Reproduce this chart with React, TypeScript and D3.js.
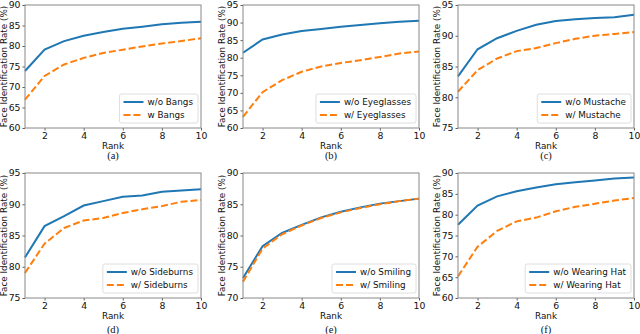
import { useEffect, useRef } from "react";
import * as d3 from "d3";

const ranks = [1, 2, 3, 4, 5, 6, 7, 8, 9, 10];
const rankTicks = [2, 4, 6, 8, 10];

const bangsWithout = [73.9, 79.1, 81.2, 82.5, 83.4, 84.2, 84.7, 85.3, 85.7, 85.9];
const bangsWith = [66.9, 72.7, 75.5, 77.1, 78.3, 79.1, 79.9, 80.6, 81.2, 81.9];

const glassesWithout = [81.4, 85.2, 86.6, 87.6, 88.2, 88.8, 89.3, 89.8, 90.2, 90.5];
const glassesWith = [63.2, 70.2, 73.6, 76.0, 77.5, 78.5, 79.3, 80.2, 81.2, 81.8];

const mustacheWithout = [83.4, 87.8, 89.6, 90.8, 91.8, 92.4, 92.7, 92.9, 93.0, 93.4];
const mustacheWith = [80.9, 84.4, 86.3, 87.5, 88.0, 88.8, 89.5, 90.0, 90.3, 90.6];

const sideburnsWithout = [81.5, 86.5, 88.1, 89.8, 90.5, 91.2, 91.4, 92.0, 92.2, 92.4];
const sideburnsWith = [79.0, 83.7, 86.2, 87.4, 87.8, 88.6, 89.2, 89.7, 90.4, 90.7];

const smilingWithout = [73.2, 78.3, 80.4, 81.7, 82.9, 83.8, 84.5, 85.1, 85.5, 85.9];
const smilingWith = [72.6, 77.9, 80.2, 81.6, 82.8, 83.7, 84.4, 85.0, 85.5, 85.9];

const hatWithout = [77.6, 82.2, 84.4, 85.6, 86.5, 87.3, 87.8, 88.2, 88.7, 88.9];
const hatWith = [65.2, 72.3, 76.1, 78.4, 79.3, 80.8, 81.9, 82.6, 83.4, 84.0];

const panels = [
  { caption: "(a)", yMin: 60, yMax: 90, blue: bangsWithout, orange: bangsWith, labels: ["w/o Bangs", "w Bangs"] },
  { caption: "(b)", yMin: 60, yMax: 95, blue: glassesWithout, orange: glassesWith, labels: ["w/o Eyeglasses", "w/ Eyeglasses"] },
  { caption: "(c)", yMin: 75, yMax: 95, blue: mustacheWithout, orange: mustacheWith, labels: ["w/o Mustache", "w/ Mustache"] },
  { caption: "(d)", yMin: 75, yMax: 95, blue: sideburnsWithout, orange: sideburnsWith, labels: ["w/o Sideburns", "w/ Sideburns"] },
  { caption: "(e)", yMin: 70, yMax: 90, blue: smilingWithout, orange: smilingWith, labels: ["w/o Smiling", "w/ Smiling"] },
  { caption: "(f)", yMin: 60, yMax: 90, blue: hatWithout, orange: hatWith, labels: ["w/o Wearing Hat", "w/ Wearing Hat"] },
];

const W = 640;
const H = 334;
const colLeft = [25, 243, 458];
const rowTop = [5, 173];
const rowH = [123, 125];
const rowCaption = [159, 333];
const plotW = 176;
const BLUE = "#1f77b4";
const ORANGE = "#ff7f0e";
const FONT = "DejaVu Sans, sans-serif";

const App = () => {
  const svgRef = useRef<SVGSVGElement | null>(null);

  useEffect(() => {
    if (!svgRef.current) return;
    const svg = d3.select(svgRef.current);
    svg.selectAll("*").remove();

    panels.forEach((p, i) => {
      const row = Math.floor(i / 3);
      const left = colLeft[i % 3];
      const top = rowTop[row];
      const plotH = rowH[row];
      const x = d3.scaleLinear().domain([1, 10]).range([0, plotW]);
      const y = d3.scaleLinear().domain([p.yMin, p.yMax]).range([plotH, 0]);

      const g = svg.append("g").attr("transform", `translate(${left},${top})`);

      // axes
      const xAxis = g
        .append("g")
        .attr("transform", `translate(0,${plotH})`)
        .call(d3.axisBottom(x).tickValues(rankTicks).tickSize(2.5).tickPadding(2));
      const yAxis = g
        .append("g")
        .call(d3.axisLeft(y).tickValues(d3.range(p.yMin, p.yMax + 0.1, 5)).tickSize(2.5).tickPadding(2));
      [xAxis, yAxis].forEach((a) => {
        a.select(".domain").remove();
        a.selectAll("line").attr("stroke", "#333").attr("stroke-width", 0.8);
        a.selectAll("text").attr("font-family", FONT).attr("font-size", 9.3).attr("fill", "#111");
      });

      const line = d3
        .line<number>()
        .x((_, k) => x(ranks[k]))
        .y((d) => y(d));

      g.append("path")
        .attr("d", line(p.blue))
        .attr("fill", "none")
        .attr("stroke", BLUE)
        .attr("stroke-width", 2);
      g.append("path")
        .attr("d", line(p.orange))
        .attr("fill", "none")
        .attr("stroke", ORANGE)
        .attr("stroke-width", 2)
        .attr("stroke-dasharray", "7,3");

      // frame
      g.append("rect")
        .attr("width", plotW)
        .attr("height", plotH)
        .attr("fill", "none")
        .attr("stroke", "#888")
        .attr("stroke-width", 1);

      // legend
      const leg = g.append("g");
      const texts = p.labels.map((t, k) =>
        leg
          .append("text")
          .attr("y", 11 + k * 13)
          .attr("font-family", FONT)
          .attr("font-size", 8.8)
          .attr("fill", "#111")
          .text(t)
      );
      const tw = d3.max(texts, (t) => (t.node() as SVGTextElement).getComputedTextLength()) || 40;
      const boxW = tw + 33;
      const boxH = 29;
      const bx = plotW - 3 - boxW;
      const by = plotH - 5 - boxH;
      leg.attr("transform", `translate(${bx},${by})`);
      leg
        .insert("rect", "text")
        .attr("width", boxW)
        .attr("height", boxH)
        .attr("rx", 2)
        .attr("fill", "white")
        .attr("fill-opacity", 0.85)
        .attr("stroke", "#d6d6d6")
        .attr("stroke-width", 0.8);
      texts.forEach((t) => t.attr("x", 28));
      [BLUE, ORANGE].forEach((c, k) => {
        leg
          .append("line")
          .attr("x1", 4)
          .attr("x2", 24)
          .attr("y1", 8 + k * 13)
          .attr("y2", 8 + k * 13)
          .attr("stroke", c)
          .attr("stroke-width", 2)
          .attr("stroke-dasharray", k === 1 ? "7,3" : null);
      });

      // labels
      g.append("text")
        .attr("x", plotW / 2)
        .attr("y", plotH + 21)
        .attr("text-anchor", "middle")
        .attr("font-family", FONT)
        .attr("font-size", 8.8)
        .attr("fill", "#111")
        .text("Rank");
      g.append("text")
        .attr("transform", `translate(-18,${plotH / 2}) rotate(-90)`)
        .attr("text-anchor", "middle")
        .attr("font-family", FONT)
        .attr("font-size", 8.8)
        .attr("fill", "#111")
        .text("Face Identification Rate (%)");
      svg
        .append("text")
        .attr("x", left + plotW / 2)
        .attr("y", rowCaption[row])
        .attr("text-anchor", "middle")
        .attr("font-family", "Liberation Serif, serif")
        .attr("font-size", 10.5)
        .attr("fill", "#111")
        .text(p.caption);
    });
  }, []);

  return (
    <svg
      ref={svgRef}
      width={W}
      height={H}
      style={{ position: "absolute", left: 0, top: 0, background: "white" }}
    />
  );
};

export default App;
